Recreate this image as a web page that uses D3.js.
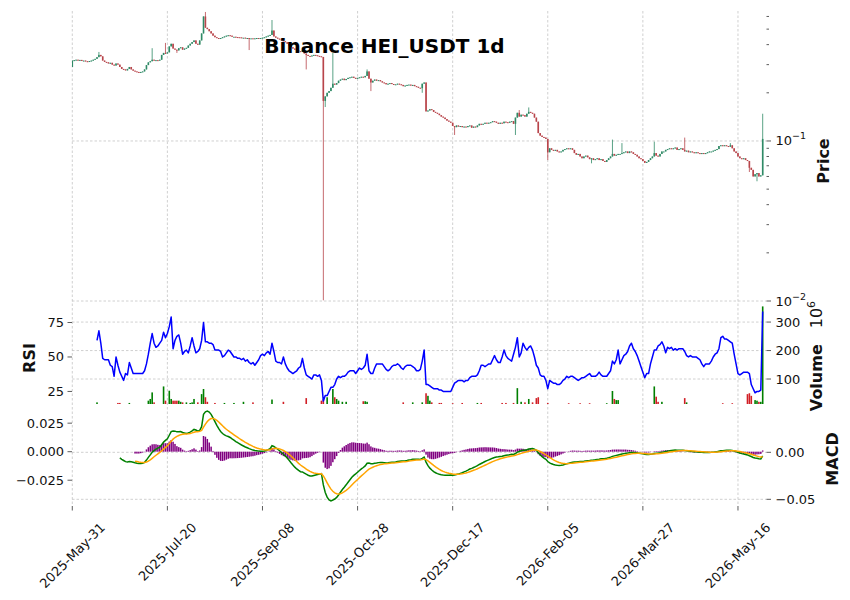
<!DOCTYPE html>
<html>
<head>
<meta charset="utf-8">
<script src="https://cdn.jsdelivr.net/npm/d3@7"></script>
<style>
  body { margin: 0; background: #fff; }
  svg { font-family: "DejaVu Sans", sans-serif; }
</style>
</head>
<body>
<svg id="chart" width="850" height="600"></svg>
<script>
// ---- data ----
const title = "Binance HEI_USDT 1d";
const startDate = new Date(2025, 4, 31);
const firstOpen = 0.29;

// daily closes, index 0 = 2025-May-31
const closes = [
  0.318, 0.320, 0.322, 0.319, 0.321, 0.317, 0.318, 0.315, 0.312, 0.316,
  0.318, 0.322, 0.326, 0.334, 0.345, 0.338, 0.318, 0.312, 0.310, 0.305,
  0.308, 0.300, 0.296, 0.305, 0.300, 0.290, 0.282, 0.280, 0.276, 0.282,
  0.290, 0.280, 0.275, 0.272, 0.270, 0.268, 0.270, 0.272, 0.280, 0.298,
  0.310, 0.315, 0.322, 0.318, 0.320, 0.318, 0.322, 0.345, 0.355, 0.352,
  0.358, 0.390, 0.405, 0.378, 0.372, 0.368, 0.380, 0.385, 0.372, 0.378,
  0.382, 0.395, 0.405, 0.415, 0.425, 0.405, 0.400, 0.425, 0.470, 0.600,
  0.510, 0.500, 0.485, 0.470, 0.455, 0.445, 0.440, 0.438, 0.440, 0.445,
  0.450, 0.455, 0.458, 0.455, 0.448, 0.448, 0.446, 0.445, 0.444, 0.442,
  0.442, 0.440, 0.440, 0.438, 0.438, 0.436, 0.438, 0.440, 0.438, 0.440,
  0.442, 0.445, 0.450, 0.455, 0.460, 0.490, 0.450, 0.442, 0.436, 0.432,
  0.425, 0.420, 0.414, 0.405, 0.395, 0.385, 0.378, 0.372, 0.368, 0.364,
  0.360, 0.368, 0.352, 0.345, 0.340, 0.338, 0.342, 0.345, 0.343, 0.340,
  0.338, 0.335, 0.178, 0.190, 0.200, 0.205, 0.215, 0.228, 0.225, 0.230,
  0.238, 0.242, 0.245, 0.240, 0.244, 0.248, 0.250, 0.252, 0.248, 0.245,
  0.248, 0.250, 0.252, 0.250, 0.255, 0.272, 0.245, 0.232, 0.238, 0.242,
  0.238, 0.240, 0.236, 0.232, 0.230, 0.226, 0.228, 0.230, 0.227, 0.225,
  0.226, 0.228, 0.226, 0.224, 0.220, 0.222, 0.224, 0.225, 0.222, 0.224,
  0.220, 0.218, 0.215, 0.214, 0.228, 0.232, 0.153, 0.155, 0.158, 0.156,
  0.152, 0.150, 0.148, 0.145, 0.142, 0.140, 0.137, 0.134, 0.132, 0.130,
  0.124, 0.122, 0.125, 0.123, 0.124, 0.122, 0.123, 0.122, 0.124, 0.125,
  0.121, 0.123, 0.122, 0.125, 0.128, 0.127, 0.128, 0.130, 0.129, 0.130,
  0.131, 0.133, 0.132, 0.130, 0.128, 0.130, 0.129, 0.132, 0.131, 0.130,
  0.132, 0.133, 0.128, 0.140, 0.150, 0.142, 0.146, 0.145, 0.142, 0.148,
  0.152, 0.150, 0.148, 0.140, 0.132, 0.112, 0.108, 0.106, 0.105, 0.103,
  0.085, 0.090, 0.088, 0.087, 0.088, 0.086, 0.085, 0.086, 0.088, 0.089,
  0.090, 0.089, 0.090, 0.088, 0.084, 0.082, 0.083, 0.080, 0.078, 0.080,
  0.081, 0.079, 0.077, 0.078, 0.076, 0.077, 0.078, 0.076, 0.077, 0.075,
  0.074, 0.076, 0.078, 0.080, 0.083, 0.081, 0.082, 0.083, 0.083, 0.084,
  0.085, 0.086, 0.084, 0.086, 0.085, 0.083, 0.082, 0.080, 0.078, 0.077,
  0.075, 0.073, 0.074, 0.076, 0.078, 0.080, 0.084, 0.081, 0.080, 0.083,
  0.086, 0.086, 0.088, 0.089, 0.090, 0.089, 0.090, 0.091, 0.088, 0.089,
  0.090, 0.088, 0.086, 0.087, 0.085, 0.086, 0.085, 0.084, 0.085, 0.084,
  0.083, 0.084, 0.083, 0.084, 0.085, 0.086, 0.086, 0.087, 0.088, 0.089,
  0.093, 0.094, 0.093, 0.094, 0.093, 0.092, 0.094, 0.090, 0.086, 0.084,
  0.080, 0.078, 0.077, 0.078, 0.076, 0.075, 0.068, 0.066, 0.060, 0.062,
  0.063, 0.060, 0.061, 0.103
];

// visible wicks beyond the body: [day, price]
const highWicks = [[14, 0.36], [42, 0.38], [49, 0.41], [70, 0.64], [105, 0.57], [137, 0.355],
  [155, 0.28], [235, 0.156], [240, 0.162], [284, 0.102], [289, 0.097], [306, 0.099],
  [322, 0.105], [346, 0.097], [363, 0.148]];
const lowWicks = [[55, 0.355], [93, 0.37], [123, 0.28], [132, 0.0101], [133, 0.163],
  [157, 0.205], [184, 0.2], [201, 0.109], [233, 0.109], [250, 0.076], [273, 0.0725],
  [356, 0.064], [360, 0.056]];

// daily volume, millions
const volumes = [
  8, 8, 8, 8, 8, 8, 8, 8, 8, 8,   8, 8, 8, 18, 8, 8, 8, 8, 8, 8,
  8, 8, 8, 8, 16, 16, 8, 8, 8, 8,   16, 8, 8, 8, 8, 8, 8, 8, 8, 8,
  24, 30, 53, 18, 8, 8, 8, 8, 74, 24,   10, 59, 30, 24, 24, 24, 24, 20, 18, 10,
  18, 10, 16, 18, 30, 10, 18, 10, 47, 65,   36, 20, 10, 10, 10, 16, 10, 10, 10, 10,
  16, 8, 8, 8, 8, 16, 8, 8, 8, 8,   20, 8, 8, 8, 8, 18, 8, 8, 8, 8,
  8, 8, 8, 8, 8, 28, 8, 8, 8, 8,   8, 20, 8, 8, 8, 8, 8, 8, 8, 8,
  8, 8, 8, 33, 8, 8, 8, 8, 8, 8,   8, 24, 30, 10, 36, 10, 10, 65, 36, 30,
  24, 8, 20, 8, 20, 8, 8, 8, 8, 8,   8, 8, 8, 22, 22, 20, 8, 8, 8, 8,
  8, 8, 8, 8, 8, 8, 8, 8, 8, 8,   8, 8, 8, 8, 18, 8, 8, 8, 8, 18,
  8, 8, 8, 8, 18, 10, 50, 41, 24, 18,   8, 8, 8, 16, 16, 8, 8, 8, 8, 8,
  15, 8, 8, 8, 8, 16, 8, 8, 8, 8,   8, 8, 8, 16, 8, 16, 8, 8, 8, 8,
  8, 8, 8, 8, 8, 8, 16, 8, 16, 8,   8, 8, 16, 10, 68, 8, 20, 8, 18, 8,
  30, 8, 18, 8, 33, 36, 8, 8, 8, 8,   16, 8, 8, 8, 8, 8, 8, 8, 8, 8,
  8, 15, 8, 8, 8, 8, 8, 15, 8, 8,   8, 8, 15, 8, 8, 8, 8, 8, 8, 8,
  8, 15, 8, 8, 58, 30, 26, 26, 8, 8,   8, 8, 8, 8, 8, 8, 8, 8, 8, 8,
  8, 8, 8, 8, 8, 8, 74, 38, 20, 8,   20, 8, 8, 8, 8, 8, 8, 8, 8, 8,
  8, 8, 33, 18, 8, 8, 8, 8, 8, 8,   8, 8, 8, 8, 8, 8, 8, 8, 8, 8,
  8, 8, 15, 8, 8, 8, 8, 15, 8, 8,   8, 8, 8, 8, 8, 47, 50, 41, 8, 26,
  24, 20, 20, 355
];

// RSI(14) as plotted, from day 13 on
const rsiStart = 13;
const rsiValues = [
  62, 69, 60, 49, 48, 48, 48,
  44, 43, 36, 50, 44, 39, 36, 33, 38, 37,
  46, 42, 38, 38, 38, 38, 38, 38, 40, 45,
  52, 60, 67, 60, 57, 58, 60, 62, 68, 64,
  67, 72, 79, 56, 62, 65, 66, 60, 52, 54,
  55, 53, 58, 64, 58, 53, 54, 56, 62, 75,
  61, 61, 60, 60, 59, 55, 55, 55, 54, 50,
  51, 53, 55, 54, 52, 50, 50, 49, 49, 48,
  49, 47, 48, 46, 45, 46, 44, 46, 48, 51,
  52, 51, 53, 54, 52, 60, 54, 47, 46, 46,
  45, 50, 45, 42, 40, 39, 38, 39, 40, 42,
  43, 49, 42, 37, 36, 35, 34, 37, 37, 36,
  37, 33, 18, 22, 22, 25, 28, 28, 30, 34,
  36, 35, 36, 36, 37, 39, 40, 40, 40, 38,
  40, 42, 41, 42, 44, 52, 40, 38, 38, 42,
  45, 45, 45, 45, 43, 41, 40, 41, 43, 44,
  44, 45, 44, 42, 41, 43, 44, 44, 44, 43,
  42, 40, 40, 41, 47, 55, 30, 30, 29, 28,
  27, 27, 27, 26, 26, 25, 25, 25, 25, 25,
  28, 31, 32, 33, 33, 33, 32, 33, 33, 35,
  36, 36, 36, 37, 40, 44, 44, 43, 44, 45,
  45, 48, 51, 48, 46, 46, 50, 55, 51, 49,
  48, 47, 52, 57, 64, 50, 53, 60, 57, 55,
  57, 58, 55, 50, 44, 42, 37, 36, 36, 33,
  27, 33, 32, 31, 31, 30, 30, 31, 33, 34,
  36, 35, 36, 36, 35, 34, 33, 34, 35, 35,
  36, 37, 38, 36, 36, 36, 37, 39, 37, 36,
  36, 36, 38, 40, 47, 45, 48, 55, 45, 48,
  51, 52, 54, 58, 60, 56, 54, 51, 47, 43,
  39, 35, 38, 38, 45, 50, 55, 55, 58, 59,
  61, 58, 53, 57, 56, 57, 55, 56, 55, 56,
  56, 56, 54, 51, 50, 51, 50, 50, 50, 49,
  48, 45, 43, 45, 45, 45, 47, 50, 52, 53,
  56, 64, 65, 63, 63, 62, 61, 60, 52, 45,
  38, 37, 38, 39, 39, 39, 38, 30, 27, 24,
  25, 25, 26, 83
];

const tickDays = [0, 50, 100, 150, 200, 250, 300, 350];
const priceMajor = [0.01, 0.1];
const priceMinor = [0.02, 0.03, 0.04, 0.05, 0.06, 0.07, 0.08, 0.09, 0.2, 0.3, 0.4, 0.5, 0.6];
const rsiTicks = [25, 50, 75];
const volTicks = [100, 200, 300];
const histTicks = [-0.025, 0, 0.025];
const macdTicks = [-0.05, 0];

const colors = {
    up: '#2f8a66', down: '#b8454b',
    volUp: '#007f00', volDown: '#d11f26',
    rsi: '#0000ff', macd: '#008000', signal: '#ffa500', hist: '#800080',
    grid: '#c4c4c4', tick: '#333', text: '#111'
};

// ---- layout ----
const plotLeft = 72, plotRight = 766.5;
const pricePanel = { top: 11, bottom: 301 };
const lowerPanel = { top: 301, bottom: 404 };
const macdPanel = { top: 404, bottom: 506 };

const svg = d3.select("#chart");

const x = d3.scaleLinear().domain([-0.15, 365]).range([plotLeft, plotRight]);
const yPrice = d3.scaleLog().domain([0.01, 0.649]).range([pricePanel.bottom, pricePanel.top]);
const yRsi = d3.scaleLinear().domain([15.9, 90.6]).range([lowerPanel.bottom, lowerPanel.top]);
const yVol = d3.scaleLinear().domain([12.3, 374]).range([lowerPanel.bottom, lowerPanel.top]);
// histogram sits on the left axis, MACD/signal lines on the right one
const yHist = d3.scaleLinear().domain([-0.0476, 0.0418]).range([macdPanel.bottom, macdPanel.top]);
const yMacd = d3.scaleLinear().domain([-0.0571, 0.0514]).range([macdPanel.bottom, macdPanel.top]);

// ---- derived series ----
const hiMap = new Map(highWicks), loMap = new Map(lowWicks);
const candles = closes.map((c, i) => {
    const o = i === 0 ? firstOpen : closes[i - 1];
    return {
        i, o, c,
        h: Math.max(o, c, hiMap.get(i) || 0),
        l: Math.min(o, c, loMap.get(i) || Infinity),
        v: volumes[i],
        up: c >= o
    };
});

// pandas-style ewm(adjust=False), null before min periods
function ema(values, span, minPeriods) {
    const a = 2 / (span + 1);
    const out = [];
    let prev = null, count = 0;
    values.forEach(v => {
        if (v == null) { out.push(null); return; }
        prev = prev == null ? v : a * v + (1 - a) * prev;
        count++;
        out.push(count >= minPeriods ? prev : null);
    });
    return out;
}
const ema12 = ema(closes, 12, 12);
const ema26 = ema(closes, 26, 26);
const macd = closes.map((c, i) => (ema26[i] == null ? null : ema12[i] - ema26[i]));
const signal = ema(macd, 9, 9);
const hist = macd.map((m, i) => (signal[i] == null ? null : m - signal[i]));

const rsi = rsiValues.map((v, k) => ({ i: rsiStart + k, v }));

// ---- clip paths ----
const defs = svg.append("defs");
[["clipPrice", pricePanel], ["clipLower", lowerPanel], ["clipMacd", macdPanel]].forEach(([id, p]) => {
    defs.append("clipPath").attr("id", id).append("rect")
        .attr("x", plotLeft).attr("y", p.top)
        .attr("width", plotRight - plotLeft).attr("height", p.bottom - p.top);
});

// ---- grid ----
const grid = svg.append("g")
    .attr("stroke", colors.grid).attr("stroke-width", 0.8).attr("stroke-dasharray", "2.5,2");

grid.selectAll(".vgrid").data(tickDays).join("line")
    .attr("x1", d => x(d)).attr("x2", d => x(d))
    .attr("y1", pricePanel.top).attr("y2", macdPanel.bottom);
grid.selectAll(".pgrid").data(priceMajor).join("line")
    .attr("x1", plotLeft).attr("x2", plotRight)
    .attr("y1", d => yPrice(d)).attr("y2", d => yPrice(d));
grid.selectAll(".volgrid").data(volTicks).join("line")
    .attr("x1", plotLeft).attr("x2", plotRight)
    .attr("y1", d => yVol(d)).attr("y2", d => yVol(d));
grid.selectAll(".mgrid").data(macdTicks).join("line")
    .attr("x1", plotLeft).attr("x2", plotRight)
    .attr("y1", d => yMacd(d)).attr("y2", d => yMacd(d));

// ---- candles ----
const bodyW = 1.6;
const candleG = svg.append("g").attr("clip-path", "url(#clipPrice)");
candleG.selectAll(".wick").data(candles).join("line")
    .attr("x1", d => x(d.i)).attr("x2", d => x(d.i))
    .attr("y1", d => yPrice(d.h)).attr("y2", d => yPrice(d.l))
    .attr("stroke", d => d.up ? colors.up : colors.down)
    .attr("stroke-width", 0.8);
candleG.selectAll(".body").data(candles).join("rect")
    .attr("x", d => x(d.i) - bodyW / 2)
    .attr("width", bodyW)
    .attr("y", d => yPrice(Math.max(d.o, d.c)))
    .attr("height", d => Math.max(1, yPrice(Math.min(d.o, d.c)) - yPrice(Math.max(d.o, d.c))))
    .attr("fill", d => d.up ? colors.up : colors.down);

// ---- volume + RSI ----
const lowerG = svg.append("g").attr("clip-path", "url(#clipLower)");
lowerG.selectAll(".vol").data(candles).join("rect")
    .attr("x", d => x(d.i) - 0.8)
    .attr("width", 1.6)
    .attr("y", d => yVol(Math.max(d.v, 12.3)))
    .attr("height", d => lowerPanel.bottom - yVol(Math.max(d.v, 12.3)))
    .attr("fill", d => d.up ? colors.volUp : colors.volDown);

lowerG.append("path").datum(rsi)
    .attr("fill", "none").attr("stroke", colors.rsi).attr("stroke-width", 1.5)
    .attr("stroke-linejoin", "round")
    .attr("d", d3.line().x(d => x(d.i)).y(d => yRsi(d.v)));

// ---- MACD ----
const macdG = svg.append("g").attr("clip-path", "url(#clipMacd)");
const histData = hist.map((h, i) => ({ i, h })).filter(d => d.h != null);
macdG.selectAll(".hist").data(histData).join("rect")
    .attr("x", d => x(d.i) - 0.75)
    .attr("width", 1.5)
    .attr("y", d => Math.min(yHist(d.h), yHist(0)))
    .attr("height", d => Math.abs(yHist(d.h) - yHist(0)))
    .attr("fill", colors.hist);

const lineOf = series => d3.line()
    .defined(d => d != null)
    .x((d, i) => x(i))
    .y(d => yMacd(d))(series);
macdG.append("path").attr("d", lineOf(macd))
    .attr("fill", "none").attr("stroke", colors.macd).attr("stroke-width", 1.5);
macdG.append("path").attr("d", lineOf(signal))
    .attr("fill", "none").attr("stroke", colors.signal).attr("stroke-width", 1.5);

// ---- axes ----
const axes = svg.append("g").attr("fill", colors.text).attr("font-size", 13);

function rightTick(y, len) {
    axes.append("line").attr("x1", plotRight).attr("x2", plotRight + len)
        .attr("y1", y).attr("y2", y).attr("stroke", colors.tick).attr("stroke-width", 0.8);
}
function leftTick(y) {
    axes.append("line").attr("x1", plotLeft - 4.5).attr("x2", plotLeft)
        .attr("y1", y).attr("y2", y).attr("stroke", colors.tick).attr("stroke-width", 0.8);
}

// price axis (right, log)
priceMinor.forEach(p => rightTick(yPrice(p), 2.5));
priceMajor.forEach(p => {
    const y = yPrice(p);
    rightTick(y, 4.5);
    const t = axes.append("text").attr("x", plotRight + 9).attr("y", y + 4.5);
    t.append("tspan").text("10");
    t.append("tspan").attr("dy", -6).attr("font-size", 9.5)
        .text("\u2212" + Math.abs(Math.round(Math.log10(p))));
});

// RSI axis (left)
rsiTicks.forEach(v => {
    const y = yRsi(v);
    leftTick(y);
    axes.append("text").attr("x", plotLeft - 8).attr("y", y + 4.5)
        .attr("text-anchor", "end").text(v);
});

// volume axis (right)
volTicks.forEach(v => {
    const y = yVol(v);
    rightTick(y, 4.5);
    axes.append("text").attr("x", plotRight + 9).attr("y", y + 4.5).text(v);
});

// MACD panel axes
const fmtL = d3.format(".3f"), fmtR = d3.format(".2f");
histTicks.forEach(v => {
    const y = yHist(v);
    leftTick(y);
    axes.append("text").attr("x", plotLeft - 8).attr("y", y + 4.5)
        .attr("text-anchor", "end").text(fmtL(v));
});
macdTicks.forEach(v => {
    const y = yMacd(v);
    rightTick(y, 4.5);
    axes.append("text").attr("x", plotRight + 9).attr("y", y + 4.5).text(fmtR(v));
});

// x axis (bottom), labels rotated 45° and centred on their tick
const fmtDate = d3.timeFormat("%Y-%b-%d");
const dayDate = i => new Date(startDate.getFullYear(), startDate.getMonth(), startDate.getDate() + i);
tickDays.forEach(i => {
    const xp = x(i);
    axes.append("line").attr("x1", xp).attr("x2", xp)
        .attr("y1", macdPanel.bottom).attr("y2", macdPanel.bottom + 4.5)
        .attr("stroke", colors.tick).attr("stroke-width", 0.8);
    const t = axes.append("text").attr("text-anchor", "middle")
        .attr("dominant-baseline", "central").text(fmtDate(dayDate(i)));
    const len = t.node().getComputedTextLength();
    const half = (len + 12) / (2 * Math.SQRT2);
    t.attr("transform", `translate(${xp},${macdPanel.bottom + 15 + half}) rotate(-45)`);
});

// axis labels
const labels = svg.append("g").attr("fill", colors.text).attr("font-weight", "bold").attr("font-size", 16);
const vLabel = (txt, xb, yc) => labels.append("text")
    .attr("text-anchor", "middle")
    .attr("transform", `translate(${xb},${yc}) rotate(-90)`)
    .text(txt);
vLabel("Price", 829, 161);
vLabel("RSI", 35, 358);
vLabel("MACD", 838, 459);

const volLabel = labels.append("text")
    .attr("text-anchor", "middle")
    .attr("transform", "translate(822,356) rotate(-90)");
volLabel.append("tspan").text("Volume\u2003");
volLabel.append("tspan").attr("font-weight", "normal").text("10");
volLabel.append("tspan").attr("font-weight", "normal").attr("font-size", 11).attr("dy", -7).text("6");

// title
svg.append("text")
    .attr("x", 384.5).attr("y", 53)
    .attr("text-anchor", "middle")
    .attr("font-size", 20).attr("font-weight", "bold").attr("fill", "#000")
    .text(title);
</script>
</body>
</html>
